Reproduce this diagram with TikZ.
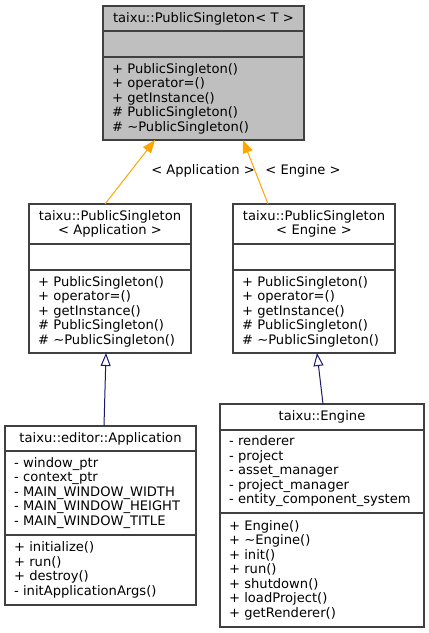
\documentclass[tikz,border=0pt]{standalone}
\usepackage{fontspec}
\setmainfont{DejaVu Sans}
\usetikzlibrary{positioning,arrows.meta}
\definecolor{tmplgray}{HTML}{BFBFBF}
\definecolor{edgeorange}{HTML}{FFA500}
\definecolor{edgeblue}{HTML}{191970}
\tikzset{
  compart/.style={draw=black!75, line width=1.2pt, outer sep=0pt, inner xsep=9pt,
    inner ysep=0pt, align=left, font=\fontsize{13.1}{14.5}\selectfont},
  titlecompart/.style={compart, align=center},
  tmplarrow/.style={edgeorange, line width=1pt, -{Triangle[length=13pt,width=10pt]}},
  inheritarrow/.style={edgeblue, line width=1pt, -{Triangle[open,length=13pt,width=10pt]}},
  edgelabel/.style={font=\fontsize{13.1}{14.5}\selectfont, inner sep=0pt}
}
\begin{document}
\begin{tikzpicture}[x=1pt, y=-1pt]
    \useasboundingbox (0,0) rectangle (429,633);

    % template class
    \node[titlecompart, fill=tmplgray, text width=183pt, minimum height=25pt, anchor=north west] (tmpltitle) at (103,6) {taixu::PublicSingleton< T >};
    \node[compart, fill=tmplgray, text width=183pt, minimum height=26pt, below=0pt of tmpltitle] (tmplattr) {};
    \node[compart, fill=tmplgray, text width=183pt, minimum height=83pt, below=0pt of tmplattr] (tmplmeth) {+ PublicSingleton()\\+ operator=()\\+ getInstance()\\\# PublicSingleton()\\\# \textasciitilde PublicSingleton()};

    % PublicSingleton< Application >
    \node[titlecompart, text width=144pt, minimum height=40pt, anchor=north west] (apptitle) at (29,204) {taixu::PublicSingleton\\< Application >};
    \node[compart, text width=144pt, minimum height=26pt, below=0pt of apptitle] (appattr) {};
    \node[compart, text width=144pt, minimum height=83pt, below=0pt of appattr] (appmeth) {+ PublicSingleton()\\+ operator=()\\+ getInstance()\\\# PublicSingleton()\\\# \textasciitilde PublicSingleton()};

    % PublicSingleton< Engine >
    \node[titlecompart, text width=144pt, minimum height=40pt, anchor=north west] (engtitle) at (233,204) {taixu::PublicSingleton\\< Engine >};
    \node[compart, text width=144pt, minimum height=26pt, below=0pt of engtitle] (engattr) {};
    \node[compart, text width=144pt, minimum height=83pt, below=0pt of engattr] (engmeth) {+ PublicSingleton()\\+ operator=()\\+ getInstance()\\\# PublicSingleton()\\\# \textasciitilde PublicSingleton()};

    % editor::Application
    \node[titlecompart, text width=173pt, minimum height=25pt, anchor=north west] (edtitle) at (5,426) {taixu::editor::Application};
    \node[compart, text width=173pt, minimum height=84pt, below=0pt of edtitle] (edattr) {- window\_ptr\\- context\_ptr\\- MAIN\_WINDOW\_WIDTH\\- MAIN\_WINDOW\_HEIGHT\\- MAIN\_WINDOW\_TITLE};
    \node[compart, text width=173pt, minimum height=70pt, below=0pt of edattr] (edmeth) {+ initialize()\\+ run()\\+ destroy()\\- initApplicationArgs()};

    % Engine
    \node[titlecompart, text width=186pt, minimum height=26pt, anchor=north west] (entitle) at (220,404) {taixu::Engine};
    \node[compart, text width=186pt, minimum height=83pt, below=0pt of entitle] (enattr) {- renderer\\- project\\- asset\_manager\\- project\_manager\\- entity\_component\_system};
    \node[compart, text width=186pt, minimum height=114pt, below=0pt of enattr] (enmeth) {+ Engine()\\+ \textasciitilde Engine()\\+ init()\\+ run()\\+ shutdown()\\+ loadProject()\\+ getRenderer()};

    % template instantiations
    \draw[tmplarrow] ([xshift=-5pt]apptitle.north) -- ([xshift=-48.5pt]tmplmeth.south);
    \draw[tmplarrow] ([xshift=-46pt]engtitle.north) -- ([xshift=39.5pt]tmplmeth.south);
    \node[edgelabel] (applabel) at (203,171) {< Application >};
    \node[edgelabel] (englabel) at (303,171) {< Engine >};

    % inheritance
    \draw[inheritarrow] ([xshift=3.5pt]edtitle.north) -- ([xshift=-4pt]appmeth.south);
    \draw[inheritarrow] ([xshift=1pt]entitle.north) -- ([xshift=3pt]engmeth.south);
\end{tikzpicture}
\end{document}
